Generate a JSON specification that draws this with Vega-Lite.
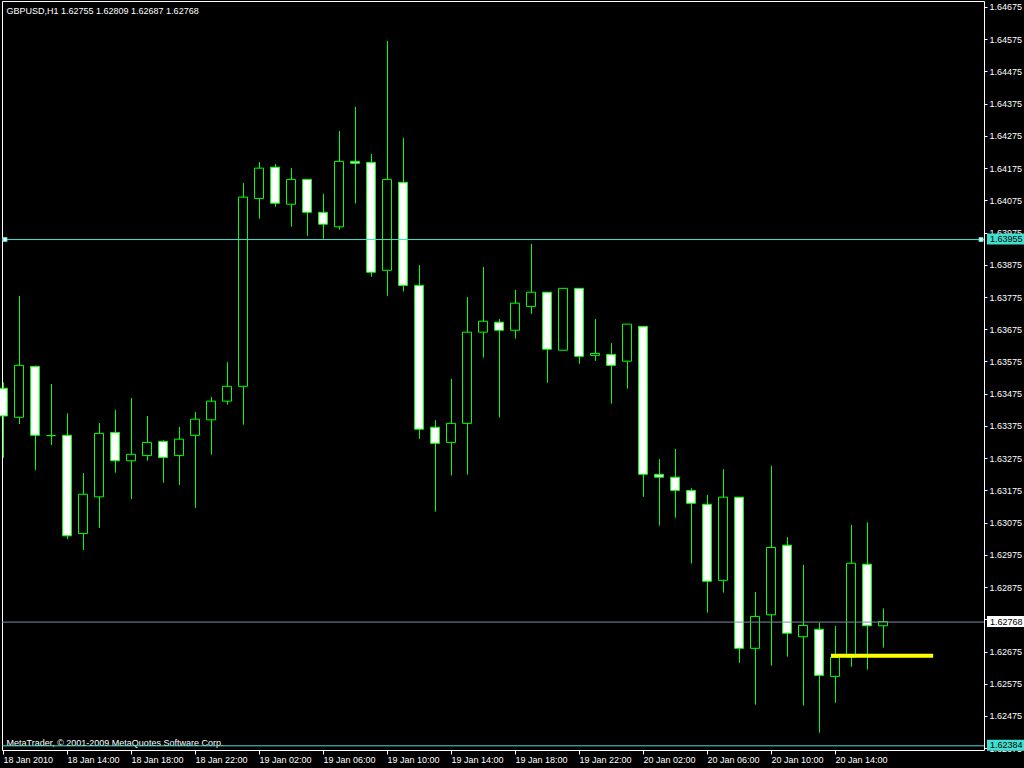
{
  "$schema": "https://vega.github.io/schema/vega-lite/v6.json",
  "autosize": {"type": "none"},
  "width": 982,
  "height": 749,
  "padding": {"left": 2, "top": 1, "right": 40, "bottom": 18},
  "background": "black",
  "config": {
    "view": {"stroke": "white", "strokeWidth": 1},
    "font": "Liberation Sans",
    "axisX": {
      "labelAlign": "left", "labelColor": "white", "labelFont": "Liberation Sans", "labelFontSize": 9,
      "labelPadding": 1, "labelOverlap": false, "labelFlush": false, "labelBound": false,
      "tickColor": "white", "tickSize": 4, "domain": false, "grid": false,
      "titleColor": "white", "titleFont": "Liberation Sans", "titleFontSize": 9, "titleFontWeight": "normal",
      "titleX": 4, "titleY": -4.5, "titleAlign": "left", "titleAnchor": "start", "titleBaseline": "alphabetic"
    },
    "axisY": {
      "labelColor": "white", "labelFont": "Liberation Sans", "labelFontSize": 9, "labelAlign": "left", "labelBaseline": "middle",
      "labelPadding": 2, "labelOverlap": false, "labelSeparation": 0, "labelFlush": false, "labelBound": false,
      "tickColor": "white", "tickSize": 3, "domain": false, "grid": false
    }
  },
  "title": {
    "text": "GBPUSD,H1  1.62755 1.62809 1.62687 1.62768",
    "anchor": "start", "frame": "group", "orient": "top", "offset": -13,
    "baseline": "alphabetic", "dx": 4.5, "dy": 9, "color": "white", "fontSize": 9,
    "fontWeight": "normal", "font": "Liberation Sans"
  },
  "datasets": {
    "candles": [
      {"t": "2010-01-18T10:00", "o": 1.63492, "h": 1.63510, "l": 1.63276, "c": 1.63406},
      {"t": "2010-01-18T11:00", "o": 1.63402, "h": 1.63778, "l": 1.63381, "c": 1.63563},
      {"t": "2010-01-18T12:00", "o": 1.63560, "h": 1.63562, "l": 1.63238, "c": 1.63346},
      {"t": "2010-01-18T13:00", "o": 1.63345, "h": 1.63505, "l": 1.63316, "c": 1.63345},
      {"t": "2010-01-18T14:00", "o": 1.63346, "h": 1.63414, "l": 1.63024, "c": 1.63034},
      {"t": "2010-01-18T15:00", "o": 1.63041, "h": 1.63229, "l": 1.62990, "c": 1.63163},
      {"t": "2010-01-18T16:00", "o": 1.63155, "h": 1.63384, "l": 1.63059, "c": 1.63352},
      {"t": "2010-01-18T17:00", "o": 1.63355, "h": 1.63425, "l": 1.63230, "c": 1.63267},
      {"t": "2010-01-18T18:00", "o": 1.63267, "h": 1.63462, "l": 1.63148, "c": 1.63287},
      {"t": "2010-01-18T19:00", "o": 1.63283, "h": 1.63406, "l": 1.63267, "c": 1.63324},
      {"t": "2010-01-18T20:00", "o": 1.63327, "h": 1.63331, "l": 1.63199, "c": 1.63277},
      {"t": "2010-01-18T21:00", "o": 1.63283, "h": 1.63372, "l": 1.63192, "c": 1.63334},
      {"t": "2010-01-18T22:00", "o": 1.63346, "h": 1.63418, "l": 1.63121, "c": 1.63396},
      {"t": "2010-01-18T23:00", "o": 1.63394, "h": 1.63465, "l": 1.63286, "c": 1.63452},
      {"t": "2010-01-19T00:00", "o": 1.63452, "h": 1.63573, "l": 1.63441, "c": 1.63498},
      {"t": "2010-01-19T01:00", "o": 1.63498, "h": 1.64129, "l": 1.63379, "c": 1.64085},
      {"t": "2010-01-19T02:00", "o": 1.64081, "h": 1.64194, "l": 1.64018, "c": 1.64175},
      {"t": "2010-01-19T03:00", "o": 1.64178, "h": 1.64188, "l": 1.64055, "c": 1.64066},
      {"t": "2010-01-19T04:00", "o": 1.64063, "h": 1.64175, "l": 1.63993, "c": 1.64140},
      {"t": "2010-01-19T05:00", "o": 1.64140, "h": 1.64141, "l": 1.63965, "c": 1.64038},
      {"t": "2010-01-19T06:00", "o": 1.64038, "h": 1.64095, "l": 1.63956, "c": 1.64001},
      {"t": "2010-01-19T07:00", "o": 1.63993, "h": 1.64290, "l": 1.63984, "c": 1.64196},
      {"t": "2010-01-19T08:00", "o": 1.64196, "h": 1.64365, "l": 1.64065, "c": 1.64190},
      {"t": "2010-01-19T09:00", "o": 1.64193, "h": 1.64219, "l": 1.63838, "c": 1.63852},
      {"t": "2010-01-19T10:00", "o": 1.63858, "h": 1.64570, "l": 1.63779, "c": 1.64140},
      {"t": "2010-01-19T11:00", "o": 1.64131, "h": 1.64269, "l": 1.63792, "c": 1.63811},
      {"t": "2010-01-19T12:00", "o": 1.63811, "h": 1.63874, "l": 1.63335, "c": 1.63365},
      {"t": "2010-01-19T13:00", "o": 1.63371, "h": 1.63393, "l": 1.63109, "c": 1.63321},
      {"t": "2010-01-19T14:00", "o": 1.63324, "h": 1.63521, "l": 1.63221, "c": 1.63383},
      {"t": "2010-01-19T15:00", "o": 1.63383, "h": 1.63775, "l": 1.63224, "c": 1.63666},
      {"t": "2010-01-19T16:00", "o": 1.63666, "h": 1.63868, "l": 1.63587, "c": 1.63700},
      {"t": "2010-01-19T17:00", "o": 1.63697, "h": 1.63707, "l": 1.63401, "c": 1.63672},
      {"t": "2010-01-19T18:00", "o": 1.63672, "h": 1.63797, "l": 1.63646, "c": 1.63756},
      {"t": "2010-01-19T19:00", "o": 1.63746, "h": 1.63940, "l": 1.63723, "c": 1.63790},
      {"t": "2010-01-19T20:00", "o": 1.63790, "h": 1.63790, "l": 1.63509, "c": 1.63613},
      {"t": "2010-01-19T21:00", "o": 1.63610, "h": 1.63802, "l": 1.63610, "c": 1.63802},
      {"t": "2010-01-19T22:00", "o": 1.63802, "h": 1.63802, "l": 1.63568, "c": 1.63591},
      {"t": "2010-01-19T23:00", "o": 1.63594, "h": 1.63707, "l": 1.63577, "c": 1.63600},
      {"t": "2010-01-20T00:00", "o": 1.63597, "h": 1.63632, "l": 1.63444, "c": 1.63563},
      {"t": "2010-01-20T01:00", "o": 1.63576, "h": 1.63691, "l": 1.63491, "c": 1.63691},
      {"t": "2010-01-20T02:00", "o": 1.63684, "h": 1.63684, "l": 1.63155, "c": 1.63225},
      {"t": "2010-01-20T03:00", "o": 1.63225, "h": 1.63272, "l": 1.63066, "c": 1.63216},
      {"t": "2010-01-20T04:00", "o": 1.63216, "h": 1.63304, "l": 1.63090, "c": 1.63175},
      {"t": "2010-01-20T05:00", "o": 1.63175, "h": 1.63182, "l": 1.62948, "c": 1.63135},
      {"t": "2010-01-20T06:00", "o": 1.63132, "h": 1.63161, "l": 1.62796, "c": 1.62893},
      {"t": "2010-01-20T07:00", "o": 1.62896, "h": 1.63241, "l": 1.62858, "c": 1.63154},
      {"t": "2010-01-20T08:00", "o": 1.63154, "h": 1.63154, "l": 1.62640, "c": 1.62685},
      {"t": "2010-01-20T09:00", "o": 1.62685, "h": 1.62860, "l": 1.62510, "c": 1.62784},
      {"t": "2010-01-20T10:00", "o": 1.62789, "h": 1.63251, "l": 1.62631, "c": 1.62998},
      {"t": "2010-01-20T11:00", "o": 1.63005, "h": 1.63030, "l": 1.62659, "c": 1.62732},
      {"t": "2010-01-20T12:00", "o": 1.62721, "h": 1.62944, "l": 1.62507, "c": 1.62756},
      {"t": "2010-01-20T13:00", "o": 1.62744, "h": 1.62765, "l": 1.62423, "c": 1.62601},
      {"t": "2010-01-20T14:00", "o": 1.62598, "h": 1.62754, "l": 1.62516, "c": 1.62657},
      {"t": "2010-01-20T15:00", "o": 1.62658, "h": 1.63068, "l": 1.62628, "c": 1.62949},
      {"t": "2010-01-20T16:00", "o": 1.62946, "h": 1.63076, "l": 1.62619, "c": 1.62755},
      {"t": "2010-01-20T17:00", "o": 1.62755, "h": 1.62809, "l": 1.62687, "c": 1.62768}
    ],
    "levels": [
      {"p": 1.63955, "kind": "line"},
      {"p": 1.62384, "kind": "line"},
      {"p": 1.62768, "kind": "bid"}
    ],
    "segments": [
      {"t1": "2010-01-20T13:45", "t2": "2010-01-20T20:08", "p": 1.62662}
    ]
  },
  "layer": [
    {
      "data": {"name": "candles"},
      "mark": {"type": "rule", "color": "#00FF00", "strokeWidth": 1, "xOffset": 0.5},
      "encoding": {
        "x": {
          "field": "t", "type": "temporal",
          "scale": {"padding": 0, "domain": [
            {"year": 2010, "month": 1, "date": 18, "hours": 9, "minutes": 56, "seconds": 15},
            {"year": 2010, "month": 1, "date": 20, "hours": 23, "minutes": 18, "seconds": 45}
          ]},
          "axis": {
            "orient": "bottom",
            "values": [
              {"year": 2010, "month": 1, "date": 18, "hours": 10},
              {"year": 2010, "month": 1, "date": 18, "hours": 14},
              {"year": 2010, "month": 1, "date": 18, "hours": 18},
              {"year": 2010, "month": 1, "date": 18, "hours": 22},
              {"year": 2010, "month": 1, "date": 19, "hours": 2},
              {"year": 2010, "month": 1, "date": 19, "hours": 6},
              {"year": 2010, "month": 1, "date": 19, "hours": 10},
              {"year": 2010, "month": 1, "date": 19, "hours": 14},
              {"year": 2010, "month": 1, "date": 19, "hours": 18},
              {"year": 2010, "month": 1, "date": 19, "hours": 22},
              {"year": 2010, "month": 1, "date": 20, "hours": 2},
              {"year": 2010, "month": 1, "date": 20, "hours": 6},
              {"year": 2010, "month": 1, "date": 20, "hours": 10},
              {"year": 2010, "month": 1, "date": 20, "hours": 14}
            ],
            "tickCount": 60,
            "labelExpr": "hours(datum.value) == 10 && date(datum.value) == 18 ? '18 Jan 2010' : timeFormat(datum.value, '%d %b %H:%M')",
            "labelOverlap": false, "labelFlush": false, "labelBound": false,
            "title": "MetaTrader, © 2001-2009 MetaQuotes Software Corp."
          }
        },
        "y": {
          "field": "l", "type": "quantitative",
          "scale": {"domain": [1.623695, 1.646936], "zero": false, "nice": false, "padding": 0},
          "axis": {
            "orient": "right",
            "values": [1.64675, 1.64575, 1.64475, 1.64375, 1.64275, 1.64175, 1.64075, 1.63975, 1.63875, 1.63775, 1.63675, 1.63575, 1.63475, 1.63375, 1.63275, 1.63175, 1.63075, 1.62975, 1.62875, 1.62775, 1.62675, 1.62575, 1.62475, 1.62375],
            "tickCount": 60,
            "format": ".5f",
            "labelOverlap": false, "labelFlush": false, "labelBound": false, "labelSeparation": 0,
            "title": ""
          }
        },
        "y2": {"field": "h"}
      }
    },
    {
      "data": {"name": "candles"},
      "mark": {"type": "bar", "size": 9, "stroke": "#00FF00", "strokeWidth": 1},
      "encoding": {
        "x": {"field": "t", "type": "temporal", "axis": {"orient": "bottom", "labelOverlap": false, "tickCount": 60}},
        "y": {"field": "o", "type": "quantitative", "axis": {"orient": "right", "labelOverlap": false, "tickCount": 60}},
        "y2": {"field": "c"},
        "fill": {"condition": {"test": "datum.o > datum.c", "value": "white"}, "value": "black"}
      }
    },
    {
      "data": {"name": "levels"},
      "mark": {"type": "rule", "strokeWidth": 1, "yOffset": 0.5},
      "encoding": {
        "y": {"field": "p", "type": "quantitative", "axis": {"orient": "right", "labelOverlap": false, "tickCount": 60}},
        "color": {"field": "kind", "type": "nominal", "scale": {"domain": ["line", "bid"], "range": ["#40E0D0", "#7B8DA6"]}, "legend": null}
      }
    },
    {
      "data": {"name": "segments"},
      "mark": {"type": "rule", "strokeWidth": 4, "color": "#FFFF00"},
      "encoding": {
        "x": {"field": "t1", "type": "temporal", "axis": {"orient": "bottom", "labelOverlap": false, "tickCount": 60}},
        "x2": {"field": "t2"},
        "y": {"field": "p", "type": "quantitative", "axis": {"orient": "right", "labelOverlap": false, "tickCount": 60}}
      }
    },
    {
      "data": {"values": [
        {"t": "2010-01-18T10:07:30", "p": 1.63955},
        {"t": "2010-01-20T23:07:30", "p": 1.63955}
      ]},
      "mark": {"type": "point", "shape": "square", "size": 16, "filled": true, "fill": "white", "stroke": "#40E0D0", "strokeWidth": 1, "opacity": 1, "yOffset": 0.5},
      "encoding": {
        "x": {"field": "t", "type": "temporal", "axis": {"orient": "bottom", "labelOverlap": false, "tickCount": 60}},
        "y": {"field": "p", "type": "quantitative", "axis": {"orient": "right", "labelOverlap": false, "tickCount": 60}}
      }
    },
    {
      "data": {"name": "levels"},
      "mark": {"type": "point", "shape": "M0,-5.5H40V5.5H0Z", "size": 4, "filled": true, "opacity": 1, "strokeWidth": 0},
      "encoding": {
        "x": {"datum": {"year": 2010, "month": 1, "date": 20, "hours": 23, "minutes": 30}, "type": "temporal", "axis": {"orient": "bottom", "labelOverlap": false, "tickCount": 60}},
        "y": {"field": "p", "type": "quantitative", "axis": {"orient": "right", "labelOverlap": false, "tickCount": 60}},
        "color": {"field": "kind", "type": "nominal", "scale": {"domain": ["line", "bid"], "range": ["#40E0D0", "white"]}, "legend": null}
      }
    },
    {
      "data": {"name": "levels"},
      "mark": {"type": "text", "align": "left", "baseline": "middle", "fontSize": 9, "font": "Liberation Sans", "color": "black"},
      "encoding": {
        "x": {"datum": {"year": 2010, "month": 1, "date": 20, "hours": 23, "minutes": 41, "seconds": 15}, "type": "temporal", "axis": {"orient": "bottom", "labelOverlap": false, "tickCount": 60}},
        "y": {"field": "p", "type": "quantitative", "axis": {"orient": "right", "labelOverlap": false, "tickCount": 60}},
        "text": {"field": "p", "type": "quantitative", "format": ".5f"}
      }
    }
  ],
  "resolve": {"scale": {"color": "independent"}}
}
